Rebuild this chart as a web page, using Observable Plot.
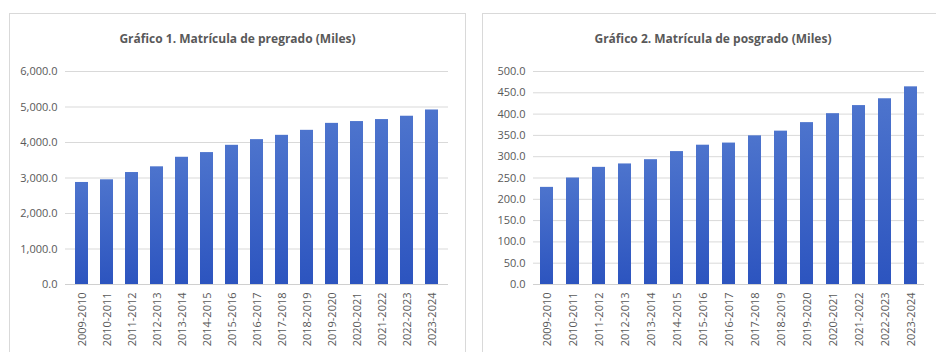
<!DOCTYPE html>
<html>
<head>
<meta charset="utf-8">
<script src="https://cdn.jsdelivr.net/npm/d3@7"></script>
<script src="https://cdn.jsdelivr.net/npm/@observablehq/plot@0.6"></script>
<style>
  html, body { margin: 0; padding: 0; background: #fff; }
  body { width: 936px; height: 352px; overflow: hidden; position: relative; font-family: "Open Sans", sans-serif; }
  .panel { position: absolute; top: 13px; height: 360px; border: 1px solid #d9d9d9; box-sizing: border-box; background: #fff; }
  .title { height: 50px; line-height: 50px; text-align: center; font-weight: bold; font-size: 12px; color: #595959; }
  .panel svg { display: block; }
</style>
</head>
<body>
<div class="panel" id="p1" style="left:9px; width:457px;"><div class="title">Gráfico 1. Matrícula de pregrado (Miles)</div></div>
<div class="panel" id="p2" style="left:482px; width:462px;"><div class="title">Gráfico 2. Matrícula de posgrado (Miles)</div></div>
<script>
const periodos = ["2009-2010","2010-2011","2011-2012","2012-2013","2013-2014","2014-2015","2015-2016","2016-2017","2017-2018","2018-2019","2019-2020","2020-2021","2021-2022","2022-2023","2023-2024"];
const pregrado = [2874, 2949, 3154, 3315, 3584, 3716, 3921, 4081, 4202, 4343, 4539, 4590, 4646, 4740, 4916];
const posgrado = [228, 250, 275, 283, 293, 312, 327, 332, 349, 360, 380, 401, 420, 436, 464];
const ticks1 = [0, 1000, 2000, 3000, 4000, 5000, 6000];
const ticks2 = [0, 50, 100, 150, 200, 250, 300, 350, 400, 450, 500];

const fmt = d3.format(",.1f");

function makeChart(values, ticks, maxY, gradId, opts) {
  const data = periodos.map((p, i) => ({periodo: p, valor: values[i]}));
  const plot = Plot.plot({
    width: opts.width,
    height: 289,
    marginTop: 7,
    marginBottom: 69,
    marginLeft: opts.marginLeft,
    marginRight: opts.marginRight,
    style: {fontFamily: "'Open Sans', sans-serif", fontSize: "11px", color: "#595959", background: "transparent"},
    x: {domain: periodos, paddingInner: 0.5, paddingOuter: 0.25, label: null, tickSize: 0, tickPadding: 8, tickRotate: -90},
    y: {domain: [0, maxY], ticks: ticks, tickFormat: fmt, label: null, tickSize: 0, tickPadding: 8},
    marks: [
      Plot.gridY(ticks, {stroke: "#d9d9d9", strokeOpacity: 1}),
      Plot.barY(data, {x: "periodo", y: "valor", fill: `url(#${gradId})`}),
      Plot.ruleY([0], {stroke: "#d0d0d0"})
    ]
  });
  const defs = d3.select(plot).insert("defs", ":first-child");
  const g = defs.append("linearGradient").attr("id", gradId).attr("x1", 0).attr("y1", 0).attr("x2", 0).attr("y2", 1);
  g.append("stop").attr("offset", "0%").attr("stop-color", "#4d74cd");
  g.append("stop").attr("offset", "100%").attr("stop-color", "#2c54bf");
  return plot;
}

document.getElementById("p1").appendChild(makeChart(pregrado, ticks1, 6000, "grad1", {width: 455, marginLeft: 55, marginRight: 17}));
document.getElementById("p2").appendChild(makeChart(posgrado, ticks2, 500, "grad2", {width: 460, marginLeft: 50, marginRight: 19}));
</script>
</body>
</html>
